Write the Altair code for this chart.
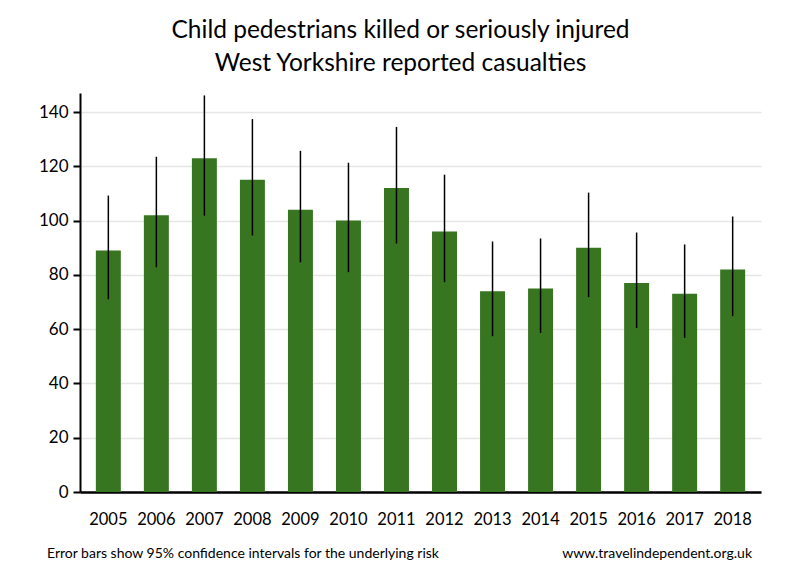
import altair as alt
import pandas as pd

years = ["2005", "2006", "2007", "2008", "2009", "2010", "2011",
         "2012", "2013", "2014", "2015", "2016", "2017", "2018"]
casualties = [89, 102, 123, 115, 104, 100, 112, 96, 74, 75, 90, 77, 73, 82]
ci_low = [71.0, 82.8, 101.8, 94.5, 84.6, 81.0, 91.5, 77.3, 57.4, 58.6, 71.8, 60.4, 56.8, 64.8]
ci_high = [109.2, 123.5, 146.1, 137.4, 125.7, 121.3, 134.5, 116.9, 92.3, 93.4, 110.3, 95.6, 91.2, 101.5]
y_ticks = [0, 20, 40, 60, 80, 100, 120, 140]

title_lines = ["Child pedestrians killed or seriously injured", "West Yorkshire reported casualties"]
footer_left = "Error bars show 95% confidence intervals for the underlying risk"
footer_right = "www.travelindependent.org.uk"

df = pd.DataFrame({"year": years, "value": casualties, "lo": ci_low, "hi": ci_high})

FONT = "Lato"

x_enc = alt.X("year:N", sort=years,
              scale=alt.Scale(paddingInner=0.48, paddingOuter=0.33),
              axis=alt.Axis(title=None, labelAngle=0, labelFontSize=16.5, labelFont=FONT,
                            labelColor="black", labelPadding=19, ticks=False,
                            domainColor="black", domainWidth=2.5, grid=False))
y_scale = alt.Scale(domain=[0, 147], nice=False)

bars = alt.Chart(df).mark_bar(color="#377521").encode(
    x=x_enc,
    y=alt.Y("value:Q", scale=y_scale,
            axis=alt.Axis(title=None, values=y_ticks, labelFontSize=17, labelFont=FONT,
                          labelColor="black", labelPadding=5, tickSize=7, tickColor="black",
                          tickWidth=2, domainColor="black", domainWidth=2,
                          gridColor="#e6e6e6", gridWidth=1.5)),
)

errs = alt.Chart(df).mark_rule(color="black", strokeWidth=1.5).encode(
    x=alt.X("year:N", sort=years),
    y=alt.Y("lo:Q", scale=y_scale),
    y2="hi:Q",
)

foot_l = alt.Chart(pd.DataFrame({"t": [footer_left]})).mark_text(
    align="left", baseline="middle", fontSize=14, font=FONT, color="black"
).encode(text="t:N", x=alt.value(-33), y=alt.value(461))

foot_r = alt.Chart(pd.DataFrame({"t": [footer_right]})).mark_text(
    align="right", baseline="middle", fontSize=14, font=FONT, color="black"
).encode(text="t:N", x=alt.value(672), y=alt.value(461))

chart = alt.layer(bars, errs, foot_l, foot_r).properties(
    width=681, height=399,
    autosize=alt.AutoSizeParams(type="none"),
    padding={"left": 72, "top": 85, "right": 30, "bottom": 70},
    title=alt.TitleParams(text=title_lines, fontSize=24.5, font=FONT, fontWeight="normal",
                          color="black", anchor="middle", dx=-20, offset=17, lineHeight=33),
).configure_view(stroke=None).configure_axis(labelFont=FONT)

chart.save("out.html", embed_options={"renderer": "svg", "actions": False})
